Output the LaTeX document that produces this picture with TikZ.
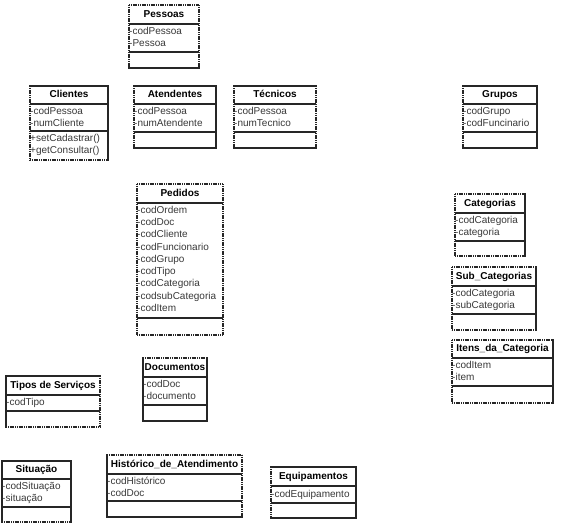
\documentclass[tikz,border=0pt]{standalone}
\usepackage{fontspec}
\setmainfont{Liberation Sans}
\tikzset{
  x=1pt, y=-1pt,
  se/.style={line width=1.1pt, draw=black!85, line cap=rect},
  de/.style={line width=1.3pt, draw=black!85, dash pattern=on 1.1pt off 0.7pt},
  sepline/.style={line width=1.1pt, draw=black!85},
  ttl/.style={font=\fontsize{10}{12}\selectfont\bfseries, inner sep=0pt, text height=7.3pt, text depth=2.1pt, text=black},
  atr/.style={font=\fontsize{10}{12}\selectfont, anchor=west, inner sep=0pt, text height=7.3pt, text depth=2.1pt, text=black!78},
}
% frame: x1 x2 ytop ybottom topstyle rightstyle bottomstyle leftstyle
\newcommand\uframe[8]{%
  \draw[#5] (#1,#3) -- (#2,#3);
  \draw[#6] (#2,#3) -- (#2,#4);
  \draw[#7] (#1,#4) -- (#2,#4);
  \draw[#8] (#1,#3) -- (#1,#4);
}
% separators: x1 x2 s1 s2
\newcommand\useps[4]{\draw[sepline] (#1,#3) -- (#2,#3); \draw[sepline] (#1,#4) -- (#2,#4);}
\begin{document}
\begin{tikzpicture}
\useasboundingbox (0,0) rectangle (569,525);

% Pessoas
\uframe{129}{199}{5}{68}{de}{de}{se}{de}
\useps{129}{199}{24}{52}
\node[ttl] (pes) at (164,14.5) {Pessoas};
\node[atr] (pes1) at (129,31.5) {-codPessoa};
\node[atr] (pes2) at (129,43.8) {-Pessoa};

% Clientes
\uframe{30}{108}{86}{160}{se}{se}{de}{de}
\useps{30}{108}{104}{131}
\node[ttl] (cli) at (69,95) {Clientes};
\node[atr] (cli1) at (30,111.5) {-codPessoa};
\node[atr] (cli2) at (30,123.8) {-numCliente};
\node[atr] (cli3) at (30,138.5) {+setCadastrar()};
\node[atr] (cli4) at (30,150.8) {+getConsultar()};

% Atendentes
\uframe{134}{216}{86}{148}{se}{se}{se}{de}
\useps{134}{216}{104}{132}
\node[ttl] (ate) at (175,95) {Atendentes};
\node[atr] (ate1) at (134,111.5) {-codPessoa};
\node[atr] (ate2) at (134,123.8) {-numAtendente};

% Tecnicos
\uframe{234}{316}{86}{148}{se}{de}{se}{de}
\useps{234}{316}{104}{132}
\node[ttl] (tec) at (275,95) {Técnicos};
\node[atr] (tec1) at (234,111.5) {-codPessoa};
\node[atr] (tec2) at (234,123.8) {-numTecnico};

% Grupos
\uframe{463}{537}{86}{148}{se}{se}{se}{de}
\useps{463}{537}{104}{132}
\node[ttl] (gru) at (500,95) {Grupos};
\node[atr] (gru1) at (463,111.5) {-codGrupo};
\node[atr] (gru2) at (463,123.8) {-codFuncinario};

% Pedidos
\uframe{137}{223}{184}{335}{de}{de}{de}{de}
\useps{137}{223}{203}{318}
\node[ttl] (ped) at (180,193.5) {Pedidos};
\node[atr] (ped1) at (137,210.5) {-codOrdem};
\node[atr] (ped2) at (137,222.8) {-codDoc};
\node[atr] (ped3) at (137,235.1) {-codCliente};
\node[atr] (ped4) at (137,247.4) {-codFuncionario};
\node[atr] (ped5) at (137,259.7) {-codGrupo};
\node[atr] (ped6) at (137,272.0) {-codTipo};
\node[atr] (ped7) at (137,284.3) {-codCategoria};
\node[atr] (ped8) at (137,296.6) {-codsubCategoria};
\node[atr] (ped9) at (137,308.9) {-codItem};

% Categorias
\uframe{455}{525}{194}{256}{de}{se}{de}{de}
\useps{455}{525}{213}{241}
\node[ttl] (cat) at (490,203.5) {Categorias};
\node[atr] (cat1) at (455,220.5) {-codCategoria};
\node[atr] (cat2) at (455,232.8) {-categoria};

% Sub_Categorias
\uframe{452}{536}{267}{330}{de}{se}{de}{de}
\useps{452}{536}{286}{314}
\node[ttl] (sub) at (494,276.5) {Sub\_Categorias};
\node[atr] (sub1) at (452,293.5) {-codCategoria};
\node[atr] (sub2) at (452,305.8) {-subCategoria};

% Itens_da_Categoria
\uframe{452}{553}{340}{403}{de}{se}{de}{de}
\useps{452}{553}{358}{386}
\node[ttl] (ite) at (502.5,349) {Itens\_da\_Categoria};
\node[atr] (ite1) at (452,365.5) {-codItem};
\node[atr] (ite2) at (452,377.8) {-item};

% Tipos de Servicos
\uframe{6}{100}{376}{427}{se}{de}{de}{se}
\useps{6}{100}{395}{411}
\node[ttl] (tip) at (53,385.5) {Tipos de Serviços};
\node[atr] (tip1) at (6,403) {-codTipo};

% Documentos
\uframe{143}{207}{358}{421}{de}{se}{se}{se}
\useps{143}{207}{377}{405}
\node[ttl] (doc) at (175,367.5) {Documentos};
\node[atr] (doc1) at (143,384.5) {-codDoc};
\node[atr] (doc2) at (143,396.8) {-documento};

% Situacao
\uframe{2}{71}{461}{522}{se}{se}{de}{se}
\useps{2}{71}{479}{507}
\node[ttl] (sit) at (36.5,470) {Situação};
\node[atr] (sit1) at (2,486.5) {-codSituação};
\node[atr] (sit2) at (2,498.8) {-situação};

% Historico_de_Atendimento
\uframe{107}{242}{455}{517}{de}{de}{se}{se}
\useps{107}{242}{474}{501}
\node[ttl] (his) at (174.5,464.5) {Histórico\_de\_Atendimento};
\node[atr] (his1) at (107,481.5) {-codHistórico};
\node[atr] (his2) at (107,493.8) {-codDoc};

% Equipamentos
\uframe{271}{356}{467}{518}{se}{se}{se}{de}
\useps{271}{356}{486}{503}
\node[ttl] (equ) at (313.5,476.5) {Equipamentos};
\node[atr] (equ1) at (271,494.5) {-codEquipamento};
\end{tikzpicture}
\end{document}
